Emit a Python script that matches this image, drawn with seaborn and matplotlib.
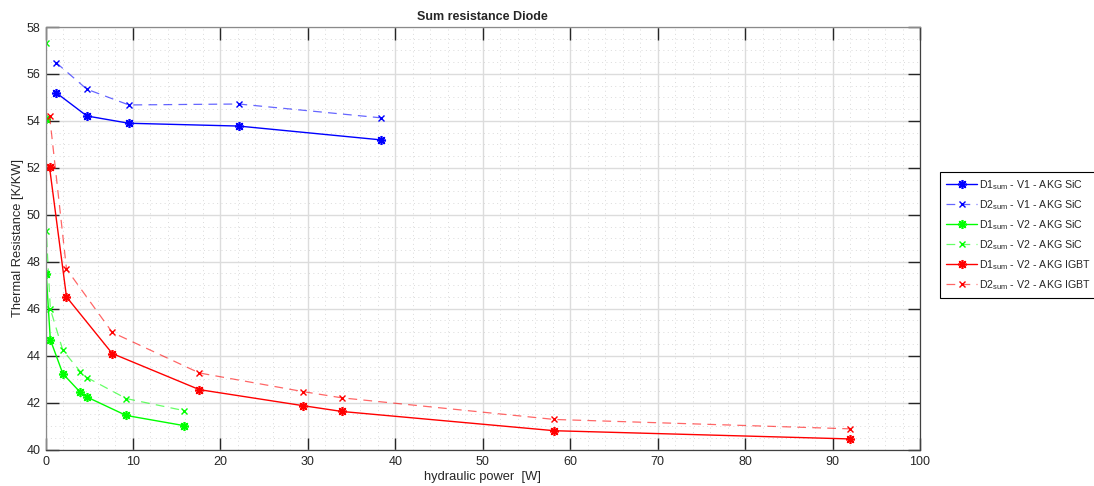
import numpy as np
import pandas as pd
import matplotlib
matplotlib.use("Agg")
import matplotlib.pyplot as plt
from matplotlib.ticker import MultipleLocator
import seaborn as sns

# ---- data ----
x_v1 = [1.22, 4.73, 9.53, 22.1, 38.4]
d1_v1_sic = [55.20, 54.21, 53.90, 53.78, 53.19]
d2_v1_sic = [56.48, 55.35, 54.68, 54.72, 54.13]

x_v2_sic = [0.02, 0.08, 0.55, 1.98, 3.97, 4.77, 9.23, 15.8]
d1_v2_sic = [54.07, 47.49, 44.68, 43.23, 42.44, 42.23, 41.45, 41.02]
d2_v2_sic = [57.30, 49.33, 45.99, 44.23, 43.32, 43.06, 42.17, 41.66]

x_v2_igbt = [0.46, 2.4, 7.63, 17.6, 29.4, 33.9, 58.2, 92.0]
d1_v2_igbt = [52.03, 46.50, 44.09, 42.55, 41.87, 41.62, 40.80, 40.45]
d2_v2_igbt = [54.23, 47.69, 44.99, 43.26, 42.47, 42.20, 41.28, 40.88]

labels = [
    r"D1$_{\mathrm{sum}}$ - V1 - AKG SiC",
    r"D2$_{\mathrm{sum}}$ - V1 - AKG SiC",
    r"D1$_{\mathrm{sum}}$ - V2 - AKG SiC",
    r"D2$_{\mathrm{sum}}$ - V2 - AKG SiC",
    r"D1$_{\mathrm{sum}}$ - V2 - AKG IGBT",
    r"D2$_{\mathrm{sum}}$ - V2 - AKG IGBT",
]
x_ticks = list(range(0, 101, 10))
y_ticks = list(range(40, 59, 2))

# ---- style ----
sns.set_theme(style="white")
plt.rcParams["font.family"] = ["Liberation Sans", "DejaVu Sans"]
plt.rcParams["mathtext.fontset"] = "custom"
plt.rcParams["mathtext.rm"] = "Liberation Sans"
plt.rcParams["mathtext.it"] = "Liberation Sans:italic"
plt.rcParams["mathtext.bf"] = "Liberation Sans:bold"

fig = plt.figure(figsize=(10.94, 4.86), dpi=100)
ax = fig.add_axes([0.0416, 0.0751, 0.841 - 0.0416, 0.9444 - 0.0751])

series = [
    (x_v1, d1_v1_sic, (0, 0, 1), "solid"),
    (x_v1, d2_v1_sic, (0, 0, 1), "dashed"),
    (x_v2_sic, d1_v2_sic, (0, 1, 0), "solid"),
    (x_v2_sic, d2_v2_sic, (0, 1, 0), "dashed"),
    (x_v2_igbt, d1_v2_igbt, (1, 0, 0), "solid"),
    (x_v2_igbt, d2_v2_igbt, (1, 0, 0), "dashed"),
]

for (xs, ys, col, ls), lab in zip(series, labels):
    df = pd.DataFrame({"x": xs, "y": ys})
    if ls == "solid":
        sns.lineplot(data=df, x="x", y="y", ax=ax, sort=False, estimator=None,
                     color=col, linewidth=1.0, marker=(8, 2, 0), markersize=6.5,
                     markeredgewidth=1.2, markeredgecolor=col, label=lab)
    else:
        sns.lineplot(data=df, x="x", y="y", ax=ax, sort=False, estimator=None,
                     color=col + (0.6,), linewidth=0.9, marker="x", markersize=5,
                     markeredgewidth=1.0, markeredgecolor=col + (1.0,),
                     dashes=False, label=lab)
        ax.lines[-1].set_linestyle((0, (7, 5)))

ax.set_xlim(0, 100)
ax.set_ylim(40, 58)
ax.set_xticks(x_ticks)
ax.set_yticks(y_ticks)
ax.xaxis.set_minor_locator(MultipleLocator(2))
ax.yaxis.set_minor_locator(MultipleLocator(0.5))
ax.grid(which="major", color="#dcdcdc", linewidth=1.0, linestyle="-")
ax.grid(which="minor", color="#dadada", linewidth=0.7, linestyle=(0, (1, 3.5)))
ax.set_axisbelow(True)

for s in ax.spines.values():
    s.set_visible(True)
    s.set_color("#8a8a8a")
    s.set_linewidth(0.9)
ax.spines["bottom"].set_color("#404040")
ax.spines["right"].set_color("#404040")

ax.tick_params(which="major", direction="in", length=9, width=1.0, color="#262626",
               labelsize=9, labelcolor="#262626", top=True, right=True,
               bottom=True, left=True)
ax.tick_params(axis="y", pad=3.5)
ax.tick_params(axis="x", pad=4.5)
ax.tick_params(which="minor", length=0)

ax.set_title("Sum resistance Diode", fontsize=9, fontweight="bold", pad=5)
ax.set_xlabel("hydraulic power  [W]", fontsize=9.3, color="#262626", labelpad=2)
ax.set_ylabel("Thermal Resistance [K/KW]", fontsize=9.3, color="#262626", labelpad=2)

handles, labs = ax.get_legend_handles_labels()
if ax.legend_:
    ax.legend_.remove()
leg = fig.legend(handles, labs, loc="upper left", bbox_to_anchor=(0.8592, 0.647),
                 fontsize=7.7, frameon=True, fancybox=False, edgecolor="black",
                 framealpha=1, handlelength=2.9, borderpad=0.6, labelspacing=0.58,
                 handletextpad=0.15, borderaxespad=0)
leg.get_frame().set_linewidth(0.8)

fig.savefig("out.png", dpi=100)
